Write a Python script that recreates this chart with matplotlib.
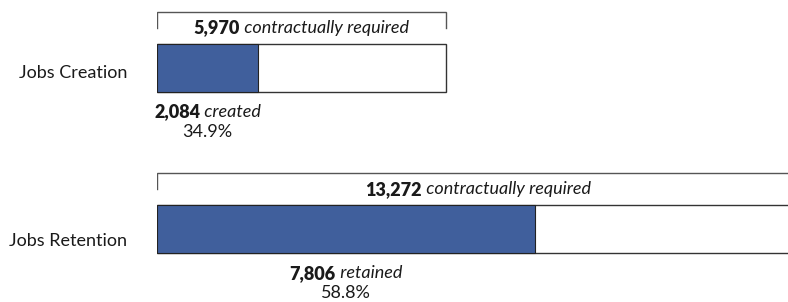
import matplotlib
matplotlib.use("Agg")
import matplotlib.pyplot as plt
from matplotlib.transforms import offset_copy

categories = ["Jobs Creation", "Jobs Retention"]
required = [5970, 13272]
achieved = [2084, 7806]
achieved_words = ["created", "retained"]
pct_labels = ["34.9%", "58.8%"]

plt.rcParams['font.family'] = ['Lato', 'DejaVu Sans']
W, H = 788, 302
fig = plt.figure(figsize=(W / 100, H / 100), dpi=100)
x0 = 157
xr = W + 60
pxu = 289 / 5970.0
ax = fig.add_axes([x0 / W, 0, (xr - x0) / W, 1])
ax.set_xlim(0, (xr - x0) / pxu)
ysp = 161.5
ax.set_ylim((H - 68) / ysp, -68 / ysp)
ax.axis('off')

blue = '#405f9c'
bh = 48 / ysp
fs = 13

renderer = fig.canvas.get_renderer()

def mixed(x, y, parts):
    texts = []
    for s, w, st in parts:
        t = ax.text(x, y, s, fontsize=fs, fontweight=w, fontstyle=st,
                    ha='left', va='center', color='#1a1a1a', clip_on=False)
        texts.append(t)
    widths = [t.get_window_extent(renderer).width for t in texts]
    total = sum(widths)
    off = -total / 2
    for t, wdt in zip(texts, widths):
        t.set_transform(offset_copy(ax.transData, fig=fig, x=off * 72 / 100,
                                    y=0, units='points'))
        off += wdt

for i, cat in enumerate(categories):
    ax.barh(i, required[i], height=bh, left=0, color='white',
            edgecolor='#333333', linewidth=1.0, zorder=1)
    ax.barh(i, achieved[i], height=bh, left=0, color=blue,
            edgecolor='#222222', linewidth=0.8, zorder=2)
    top = i - bh / 2 - 32 / ysp
    tick = 16 / ysp
    ax.plot([0, 0, required[i], required[i]], [top + tick, top, top, top + tick],
            color='#555555', linewidth=1.0, solid_joinstyle='miter')
    mixed(required[i] / 2, top + 16 / ysp,
          [(f"{required[i]:,}", 'heavy', 'normal'), (" contractually required", 'normal', 'italic')])
    mixed(achieved[i] / 2, i + bh / 2 + 20 / ysp,
          [(f"{achieved[i]:,}", 'heavy', 'normal'), (" " + achieved_words[i], 'normal', 'italic')])
    ax.text(achieved[i] / 2, i + bh / 2 + 40 / ysp, pct_labels[i], fontsize=fs,
            ha='center', va='center', color='#1a1a1a', clip_on=False)
    ax.text(-30 / pxu, i + (5 + 7 * i) / ysp, cat, fontsize=fs, ha='right', va='center',
            color='#1a1a1a', clip_on=False)

fig.savefig('out.png', dpi=100)
